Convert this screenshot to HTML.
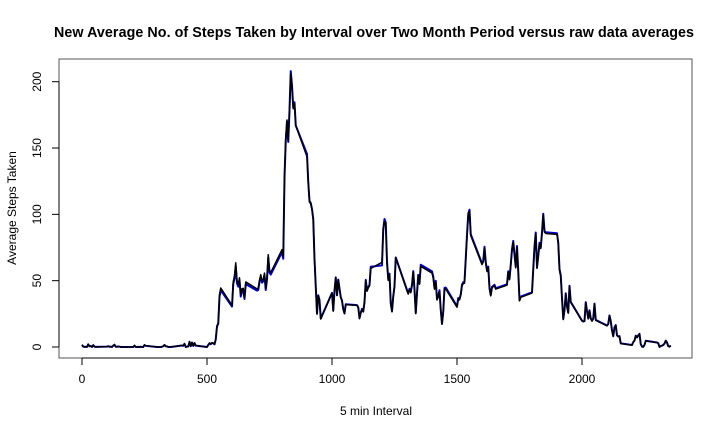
<!DOCTYPE html>
<html><head><meta charset="utf-8"><style>
body{margin:0;background:#fff}
text{font-family:"Liberation Sans",sans-serif}
</style></head><body>
<svg id="chart" width="720" height="432" xmlns="http://www.w3.org/2000/svg">
<rect width="720" height="432" fill="#fff"/>
<text x="374" y="37" text-anchor="middle" font-size="14.3" font-weight="bold" textLength="640">New Average No. of Steps Taken by Interval over Two Month Period versus raw data averages</text>
<text x="376" y="415" text-anchor="middle" font-size="12">5 min Interval</text>
<text transform="translate(16,208) rotate(-90)" text-anchor="middle" font-size="12">Average Steps Taken</text>
<rect x="59" y="59" width="633" height="299" fill="none" stroke="#555" stroke-width="1"/>
<g id="axes"></g>
<g id="series"></g>
</svg>
<script>
const rawSteps=[1.72,0.34,0.13,0.15,0.08,2.09,0.53,0.87,0,1.47,0.3,0.13,0.32,0.68,0.15,0.34,0,1.11,1.83,0.17,0.17,0.38,0.26,0,0,0,1.13,0,0,0.13,0,0.23,0,0,1.55,0.94,0,0,0,0,0.21,0.62,1.62,0.58,0.49,0.08,0,0,1.19,0.94,2.57,0,0.34,0.36,4.11,0.66,3.49,0.83,3.11,1.11,0,1.57,3,2.25,3.32,2.96,2.09,6.06,16.02,18.34,39.45,44.49,31.49,49.26,53.77,63.45,49.96,47.08,52.15,39.34,44.02,44.17,37.36,49.04,43.81,44.38,50.51,54.51,49.92,50.98,55.68,44.32,52.26,69.55,57.85,56.15,73.38,68.21,129.43,157.53,171.15,155.4,177.3,206.17,195.92,179.57,183.4,167.02,143.45,124.04,109.11,108.11,103.72,95.96,66.21,45.23,24.79,38.75,34.98,21.06,40.57,26.98,42.42,52.66,38.92,50.79,44.28,37.42,34.7,28.34,25.09,31.94,31.36,29.68,21.32,25.55,28.38,26.47,33.43,49.98,42.04,44.6,46.04,59.19,63.87,87.7,94.85,92.77,63.4,50.17,54.47,32.42,26.53,37.74,45.06,67.28,42.34,39.89,43.26,40.98,46.25,56.43,42.75,25.13,39.96,53.55,47.32,60.81,55.75,51.96,43.58,48.7,35.47,37.55,41.85,27.51,17.11,26.08,43.62,43.77,30.02,36.08,35.49,38.85,45.96,47.75,48.13,65.32,82.91,98.66,102.11,83.96,62.13,64.13,74.55,63.17,56.91,59.77,43.87,38.57,44.66,45.45,46.21,43.68,46.62,56.3,50.72,61.23,72.72,78.94,68.94,59.66,75.09,56.51,34.77,37.45,40.68,58.02,74.7,85.32,59.26,67.77,77.7,74.25,85.34,99.45,86.58,85.6,84.87,77.83,58.04,53.36,36.32,20.72,27.4,40.02,30.21,25.55,45.66,33.53,19.62,19.02,19.34,33.34,26.81,21.17,27.3,21.34,19.55,21.32,32.3,20.15,15.94,17.23,23.45,19.25,12.45,8.02,14.66,16.3,8.68,7.79,8.13,2.62,1.45,3.68,4.81,8.51,7.08,8.7,9.75,2.21,0.32,0.11,1.6,4.6,3.3,2.85,0,0.83,0.96,1.58,2.6,4.7,3.3,0.64,0.23,1.08];
const imputedSteps=[1.6,0.3,0.12,0.14,0.07,2.0,0.5,0.8,0,1.4,0.3,0.12,0.3,0.6,0.14,0.3,0,1.0,1.7,0.16,0.16,0.35,0.25,0,0,0,1.05,0,0,0.12,0,0.21,0,0,1.45,0.9,0,0,0,0,0.2,0.6,1.5,0.55,0.46,0.07,0,0,1.1,0.9,2.4,0,0.32,0.34,3.9,0.62,3.3,0.8,2.9,1.05,0,1.5,2.8,2.1,3.1,2.8,2.0,5.7,15.5,17.5,37.8,42.8,30.5,47.5,51.5,60.5,48.0,45.5,50.2,38.0,42.5,42.6,36.2,47.4,42.5,43.0,49.0,52.8,48.5,49.5,53.9,43.0,50.8,67.5,56.2,54.6,71.5,66.5,127.5,155.5,170.0,154.6,178.5,208.0,197.0,180.5,184.5,167.0,145.5,124.5,110.0,108.6,104.0,96.5,66.5,45.8,25.2,39.0,35.5,21.5,40.8,27.6,42.6,52.4,39.0,50.8,44.0,37.6,35.0,28.6,25.4,32.2,31.6,30.0,21.8,25.9,28.7,26.8,33.9,50.6,42.6,45.2,46.7,60.5,61.5,89.0,96.5,94.0,64.5,51.0,55.3,33.0,27.0,38.3,45.8,67.5,43.0,40.5,43.9,41.6,46.9,57.2,43.4,25.6,40.6,54.4,48.0,62.0,57.0,53.2,44.6,49.9,36.3,38.4,42.8,28.2,17.5,26.7,44.6,44.8,30.7,36.9,36.3,39.7,47.0,48.8,49.2,66.8,84.5,100.5,103.5,85.0,63.0,65.0,75.6,64.0,57.7,60.6,44.5,39.1,45.3,46.1,46.9,44.3,47.3,57.1,51.4,62.1,73.7,80.0,69.9,60.5,76.1,57.3,35.3,38.0,41.2,58.8,75.6,86.3,60.0,68.6,78.6,75.1,86.3,100.5,87.5,86.5,85.8,78.7,58.7,54.0,36.8,21.0,27.8,40.5,30.6,25.9,46.2,34.0,19.9,19.3,19.6,33.8,27.2,21.5,27.7,21.6,19.8,21.6,32.7,20.4,16.2,17.5,23.8,19.5,12.6,8.1,14.9,16.5,8.8,7.9,8.2,2.7,1.5,3.7,4.9,8.6,7.2,8.8,9.9,2.2,0.3,0.1,1.6,4.7,3.4,2.9,0,0.8,1.0,1.6,2.6,4.8,3.4,0.65,0.23,1.1];
const xTicks=[0,500,1000,1500,2000];
const yTicks=[0,50,100,150,200];
const intervals=[];
for(let h=0;h<24;h++)for(let m=0;m<60;m+=5)intervals.push(h*100+m);
const NS='http://www.w3.org/2000/svg';
const xS=v=>82+v*(125/500);
const yS=v=>347-v*(265.3/200);
const axes=document.getElementById('axes'),series=document.getElementById('series');
function mk(tag,attrs,parent){const e=document.createElementNS(NS,tag);for(const k in attrs)e.setAttribute(k,attrs[k]);parent.appendChild(e);return e;}
mk('line',{x1:xS(0),x2:xS(2000),y1:358,y2:358,stroke:'#000'},axes);
mk('line',{x1:59,x2:59,y1:yS(0),y2:yS(200),stroke:'#000'},axes);
xTicks.forEach(t=>{
 const l=mk('line',{x1:xS(t),x2:xS(t),y1:358,y2:365,stroke:'#000'},axes);
 
 
 const tx=mk('text',{x:xS(t),y:383,'text-anchor':'middle','font-size':12},axes);
 tx.textContent=t;
 
 
});
yTicks.forEach(t=>{
 const l=mk('line',{x1:52,x2:59,y1:yS(t),y2:yS(t),stroke:'#000'},axes);
 
 
 const tx=mk('text',{transform:`translate(41,${yS(t)}) rotate(-90)`,'text-anchor':'middle','font-size':12},axes);
 tx.textContent=t;
 
 
});
function line(vals,color,w,name){
 const d=vals.map((v,i)=>(i?'L':'M')+xS(intervals[i]).toFixed(2)+','+yS(v).toFixed(2)).join('');
 const p=mk('path',{d:d,fill:'none',stroke:color,'stroke-width':w,'stroke-linejoin':'round'},series);
 
 
}
line(imputedSteps,'#0000cc',2,'imputed-average-line');
line(rawSteps,'#000',1.5,'raw-average-line');
</script>
</body></html>
